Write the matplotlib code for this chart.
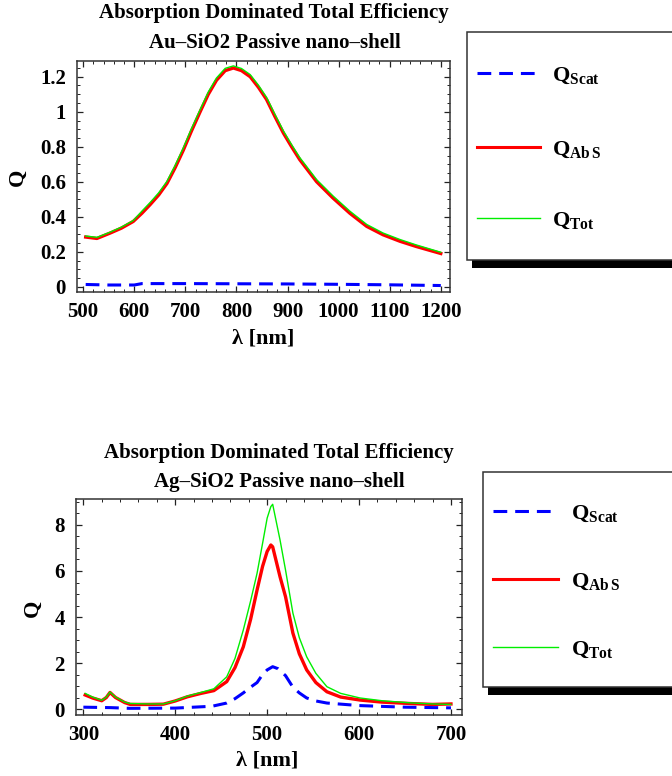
import matplotlib
matplotlib.use("Agg")
import matplotlib.pyplot as plt
from matplotlib.lines import Line2D
from matplotlib.patches import Rectangle
from matplotlib.ticker import MultipleLocator, FuncFormatter

plt.rcParams['font.family'] = ['Liberation Serif', 'DejaVu Serif']
plt.rcParams['font.weight'] = 'bold'
plt.rcParams['mathtext.fontset'] = 'custom'
plt.rcParams['mathtext.rm'] = 'Liberation Serif:bold'
plt.rcParams['mathtext.it'] = 'Liberation Serif:bold'

# Au-SiO2 nano-shell (top panel)
au_wl = [505, 527, 553, 575, 598, 615, 631, 648, 664, 680, 696, 712, 729, 745, 761, 778,
         794, 810, 827, 843, 859, 875, 892, 908, 924, 957, 989, 1022, 1055, 1087, 1120,
         1152, 1176, 1200]
au_abs = [0.284, 0.276, 0.307, 0.335, 0.373, 0.42, 0.469, 0.525, 0.59, 0.68, 0.78, 0.89,
          1.0, 1.10, 1.18, 1.235, 1.25, 1.235, 1.20, 1.14, 1.07, 0.975, 0.878, 0.80,
          0.726, 0.60, 0.507, 0.42, 0.345, 0.297, 0.26, 0.23, 0.21, 0.19]
au_tot = [0.29, 0.282, 0.312, 0.341, 0.378, 0.432, 0.481, 0.537, 0.602, 0.693, 0.793,
          0.903, 1.012, 1.113, 1.193, 1.248, 1.262, 1.247, 1.212, 1.152, 1.082, 0.987,
          0.89, 0.812, 0.738, 0.612, 0.519, 0.432, 0.356, 0.307, 0.27, 0.239, 0.218, 0.197]
au_scat_wl = [505, 550, 600, 615, 700, 800, 900, 1000, 1100, 1200]
au_scat = [0.013, 0.010, 0.010, 0.018, 0.018, 0.017, 0.016, 0.014, 0.011, 0.007]

# Ag-SiO2 nano-shell (bottom panel)
ag_wl = [302, 310, 320, 325, 329, 335, 345, 351, 370, 387, 400, 413, 428, 442, 456, 465,
         474, 482, 489, 495, 500, 504, 506, 514, 520, 528, 535, 543, 553, 565, 580, 601,
         625, 655, 680, 700]
ag_abs = [0.61, 0.48, 0.36, 0.5, 0.72, 0.5, 0.28, 0.2, 0.2, 0.21, 0.35, 0.53, 0.68, 0.8,
          1.19, 1.8, 2.7, 3.9, 5.17, 6.2, 6.85, 7.13, 7.05, 5.75, 4.88, 3.3, 2.4, 1.7, 1.15,
          0.75, 0.52, 0.39, 0.3, 0.24, 0.2, 0.22]
ag_tot = [0.68, 0.52, 0.38, 0.52, 0.74, 0.52, 0.3, 0.24, 0.22, 0.22, 0.36, 0.56, 0.72,
          0.88, 1.4, 2.2, 3.43, 4.7, 5.9, 7.2, 8.3, 8.8, 8.9, 7.35, 6.04, 4.17, 3.1, 2.27,
          1.55, 0.97, 0.68, 0.48, 0.36, 0.27, 0.22, 0.2]
ag_scat_wl = [300, 330, 350, 400, 440, 456, 465, 474, 482, 489, 495, 500, 506, 512, 520,
              528, 535, 543, 553, 565, 600, 650, 700]
ag_scat = [0.08, 0.06, 0.03, 0.04, 0.12, 0.26, 0.45, 0.7, 0.95, 1.15, 1.5, 1.7, 1.84,
           1.75, 1.45, 0.95, 0.7, 0.48, 0.35, 0.26, 0.15, 0.08, 0.05]

W, H = 672, 776
fig = plt.figure(figsize=(W / 100, H / 100), dpi=100)


def fx(px):
    return px / W


def fy(py):
    return 1 - py / H


def trim(v, pos):
    s = f"{v:.1f}".rstrip('0').rstrip('.')
    return s


def setup_axes(ax, xmaj, xmin, ymaj, ymin):
    ax.xaxis.set_major_locator(MultipleLocator(xmaj))
    ax.xaxis.set_minor_locator(MultipleLocator(xmin))
    ax.yaxis.set_major_locator(MultipleLocator(ymaj))
    ax.yaxis.set_minor_locator(MultipleLocator(ymin))
    ax.yaxis.set_major_formatter(FuncFormatter(trim))
    ax.tick_params(which='both', direction='in', top=True, right=True,
                   labelsize=15, color='#222222')
    ax.tick_params(which='major', length=4, width=0.9)
    ax.tick_params(axis='x', which='major', pad=7)
    ax.tick_params(axis='y', which='major', pad=8)
    ax.tick_params(which='minor', length=2.2, width=0.7)
    for s in ax.spines.values():
        s.set_linewidth(1.1)
        s.set_color('#333333')


def draw_legend(x0, y0, y1, line_x, line_ys, text_x):
    shadow = Rectangle((fx(x0 + 5), fy(y1 + 8)), 1.0, fy(y1) - fy(y1 + 8),
                       transform=fig.transFigure, facecolor='black', edgecolor='none',
                       zorder=1)
    box = Rectangle((fx(x0), fy(y1)), 1.0, fy(y0) - fy(y1), transform=fig.transFigure,
                    facecolor='white', edgecolor='#333333', linewidth=1.1, zorder=2)
    fig.patches.extend([shadow, box])
    styles = [dict(color='blue', lw=2.2, dashes=(4.5, 2.6)),
              dict(color='red', lw=2.2),
              dict(color='#00ee00', lw=1.0)]
    labels = [r'$\mathrm{Q}_{\mathrm{Scat}}$', r'$\mathrm{Q}_{\mathrm{Ab\,S}}$',
              r'$\mathrm{Q}_{\mathrm{Tot}}$']
    for y, st, lab in zip(line_ys, styles, labels):
        fig.add_artist(Line2D([fx(line_x[0]), fx(line_x[1])], [fy(y), fy(y)],
                              transform=fig.transFigure, zorder=3, **st))
        fig.text(fx(text_x), fy(y + 3), lab, fontsize=16, va='center', ha='left',
                 zorder=4)


# top panel
ax1 = fig.add_axes([fx(77), fy(292), fx(450) - fx(77), fy(61) - fy(292)])
ax1.plot(au_scat_wl, au_scat, color='blue', lw=2.2, dashes=(4.5, 2.6))
ax1.plot(au_wl, au_abs, color='red', lw=2.4)
ax1.plot(au_wl, au_tot, color='#00ee00', lw=1.0)
ax1.set_xlim(488, 1218)
ax1.set_ylim(-0.03, 1.29)
setup_axes(ax1, 100, 20, 0.2, 0.05)

fig.text(fx(274), fy(13), "Absorption Dominated Total Efficiency", ha='center',
         va='center', fontsize=15)
fig.text(fx(275), fy(43), "Au\u2013SiO2 Passive nano\u2013shell", ha='center',
         va='center', fontsize=15)
fig.text(fx(18), fy(177), "Q", rotation=90, ha='center', va='center', fontsize=16)
fig.text(fx(263), fy(338), "\u03bb [nm]", ha='center', va='center', fontsize=16)

draw_legend(467, 32, 260, (477, 540), (73, 147, 218), 552)

# bottom panel
ax2 = fig.add_axes([fx(76), fy(715), fx(462) - fx(76), fy(499) - fy(715)])
ax2.plot(ag_scat_wl, ag_scat, color='blue', lw=2.2, dashes=(4.5, 2.6))
ax2.plot(ag_wl, ag_abs, color='red', lw=2.4)
ax2.plot(ag_wl, ag_tot, color='#00ee00', lw=1.0)
ax2.set_xlim(292, 712)
ax2.set_ylim(-0.26, 9.13)
setup_axes(ax2, 100, 20, 2, 0.5)

fig.text(fx(279), fy(453), "Absorption Dominated Total Efficiency", ha='center',
         va='center', fontsize=15)
fig.text(fx(279), fy(482), "Ag\u2013SiO2 Passive nano\u2013shell", ha='center',
         va='center', fontsize=15)
fig.text(fx(33), fy(608), "Q", rotation=90, ha='center', va='center', fontsize=16)
fig.text(fx(267), fy(760), "\u03bb [nm]", ha='center', va='center', fontsize=16)

draw_legend(483, 472, 687, (493, 558), (511, 579, 647), 571)

fig.savefig("out.png", dpi=100)
